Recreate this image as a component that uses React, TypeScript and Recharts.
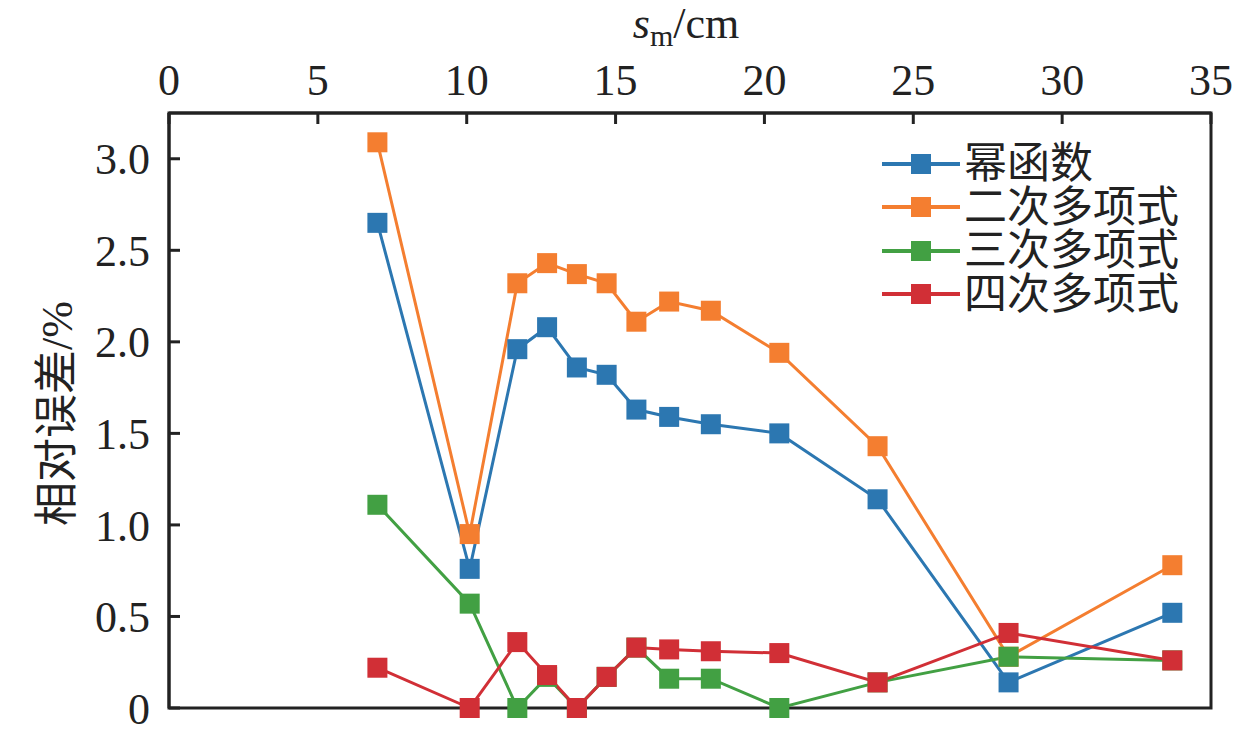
import React from 'react';
import { LineChart, Line, XAxis, YAxis, Legend, ReferenceArea } from 'recharts';

const W = 1260;
const H = 734;
const FONT = '"Liberation Serif", "Noto Sans CJK SC", serif';
const INK = '#222';

// s_m / cm
const xValues = [7.0, 10.1, 11.7, 12.7, 13.7, 14.7, 15.7, 16.8, 18.2, 20.5, 23.8, 28.2, 33.7];
// relative error / %
const powerFn = [2.65, 0.76, 1.96, 2.08, 1.86, 1.82, 1.63, 1.59, 1.55, 1.5, 1.14, 0.14, 0.52];
const quadPoly = [3.09, 0.95, 2.32, 2.43, 2.37, 2.32, 2.11, 2.22, 2.17, 1.94, 1.43, 0.28, 0.78];
const cubicPoly = [1.11, 0.57, 0, 0.17, 0, 0.17, 0.33, 0.16, 0.16, 0, 0.14, 0.28, 0.26];
const quarticPoly = [0.22, 0, 0.36, 0.18, 0, 0.17, 0.33, 0.32, 0.31, 0.3, 0.14, 0.41, 0.26];

const seriesNames = ['幂函数', '二次多项式', '三次多项式', '四次多项式'];
const seriesKeys = ['power', 'quad', 'cubic', 'quartic'];
const seriesColors = ['#2c77b1', '#f47e30', '#42a043', '#d12f36'];

const xTicks = [0, 5, 10, 15, 20, 25, 30, 35];
const yTicks = [0, 0.5, 1.0, 1.5, 2.0, 2.5, 3.0];

const data = xValues.map((x, i) => ({
  x,
  power: powerFn[i],
  quad: quadPoly[i],
  cubic: cubicPoly[i],
  quartic: quarticPoly[i],
}));

const makeDot = (color: string) => (props: any) => {
  const { cx, cy, index } = props;
  if (cx == null || cy == null) return <g key={`d-${index}`} />;
  return <rect key={`d-${index}`} x={cx - 10} y={cy - 10} width={20} height={20} fill={color} />;
};

const renderLegend = (props: any) => {
  const payload = [...(props.payload || [])].sort(
    (a: any, b: any) => seriesNames.indexOf(a.value) - seriesNames.indexOf(b.value)
  );
  return (
    <div>
      {payload.map((entry: any) => (
        <div
          key={entry.value}
          style={{ display: 'flex', alignItems: 'center', height: 43.5 }}
        >
          <svg width={84} height={24} style={{ display: 'block' }}>
            <line x1={2} y1={12} x2={80} y2={12} stroke={entry.color} strokeWidth={4} />
            <rect x={31} y={2} width={20} height={20} fill={entry.color} />
          </svg>
          <span
            style={{
              fontFamily: FONT,
              fontSize: 43,
              color: INK,
              lineHeight: '43.5px',
              whiteSpace: 'nowrap',
            }}
          >
            {entry.value}
          </span>
        </div>
      ))}
    </div>
  );
};

const XTitle = (props: any) => {
  const vb = props.viewBox || { x: 0, width: 0 };
  const cx = vb.x + vb.width / 2 - 4;
  return (
    <text x={cx} y={38} textAnchor="middle" fontFamily={FONT} fill={INK} fontSize={44}>
      <tspan fontStyle="italic">s</tspan>
      <tspan fontSize={30} dy={8}>m</tspan>
      <tspan dy={-8}>/cm</tspan>
    </text>
  );
};

const YTitle = (props: any) => {
  const vb = props.viewBox || { x: 0, y: 0, height: 0 };
  const cx = vb.x + 57;
  const cy = vb.y + vb.height / 2 + 3;
  return (
    <text
      x={cx}
      y={cy}
      textAnchor="middle"
      dominantBaseline="central"
      transform={`rotate(-90, ${cx}, ${cy})`}
      fontFamily={FONT}
      fill={INK}
      fontSize={44}
    >
      相对误差/%
    </text>
  );
};

export default function App() {
  return (
    <div style={{ position: 'absolute', left: 0, top: 0, width: W, height: H, background: '#fff' }}>
      <LineChart width={W} height={H} data={data} margin={{ top: 0, right: 49, bottom: 26, left: 0 }}>
        <XAxis
          type="number"
          dataKey="x"
          orientation="top"
          domain={[0, 35]}
          ticks={xTicks}
          height={113}
          allowDecimals={false}
          axisLine={{ stroke: INK, strokeWidth: 3 }}
          tickLine={{ stroke: INK, strokeWidth: 3 }}
          tickSize={-11}
          tickMargin={29}
          tick={{ fontSize: 44, fill: INK, fontFamily: FONT }}
          label={XTitle}
        />
        <YAxis
          type="number"
          domain={[0, 3.25]}
          ticks={yTicks}
          width={169}
          axisLine={{ stroke: INK, strokeWidth: 3 }}
          tickLine={{ stroke: INK, strokeWidth: 3 }}
          tickSize={-11}
          tickMargin={30}
          tick={{ fontSize: 44, fill: INK, fontFamily: FONT }}
          tickFormatter={(v: number) => (v === 0 ? '0' : v.toFixed(1))}
          label={YTitle}
        />
        <Legend
          layout="vertical"
          align="center"
          verticalAlign="middle"
          content={renderLegend}
          wrapperStyle={{ left: 880, top: 142, width: 330, height: 180 }}
        />
        {seriesKeys.map((k, i) => (
          <Line
            key={k}
            type="linear"
            dataKey={k}
            name={seriesNames[i]}
            stroke={seriesColors[i]}
            strokeWidth={3}
            dot={makeDot(seriesColors[i])}
            activeDot={false}
            isAnimationActive={false}
          />
        ))}
        <ReferenceArea
          x1={0}
          x2={35}
          y1={0}
          y2={3.25}
          fill="none"
          fillOpacity={0}
          stroke={INK}
          strokeWidth={3}
        />
      </LineChart>
    </div>
  );
}
